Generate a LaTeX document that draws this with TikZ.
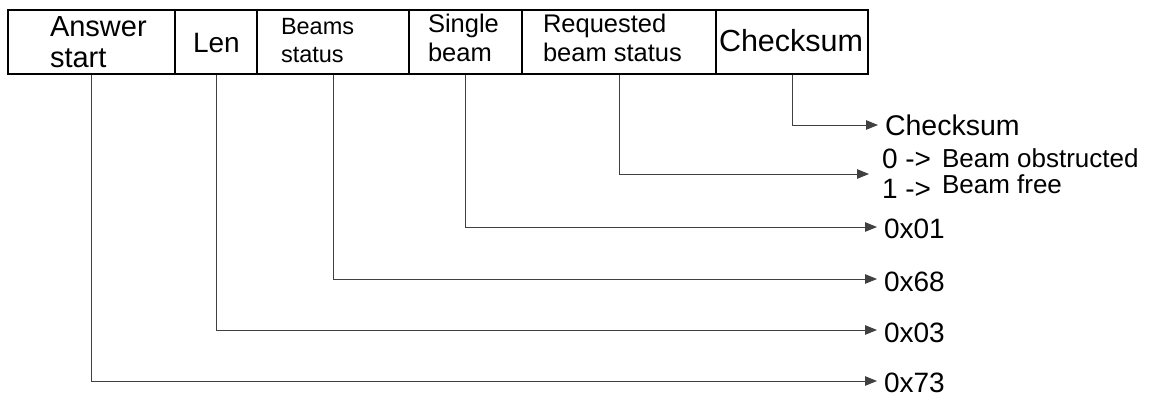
\documentclass[tikz,border=0pt]{standalone}
\usepackage{fontspec}
\setmainfont{Liberation Sans}
\usetikzlibrary{arrows.meta}
\newcommand{\fs}[1]{\fontsize{#1}{#1}\selectfont}
\begin{document}
\begin{tikzpicture}[x=1pt,y=-1pt,
  cell/.style={draw=black,line width=1.3pt,minimum height=64pt,inner sep=0pt},
  txt/.style={anchor=base west,inner sep=0pt,outer sep=0pt},
  conn/.style={draw=black!75,line width=1pt,-{Triangle[length=12pt,width=9.5pt]}}]
\useasboundingbox (0,0) rectangle (1154,396);
% cells
\node[cell,minimum width=167pt] (c1) at (91.5,42) {};
\node[cell,minimum width=82pt]  (c2) at (216,42) {};
\node[cell,minimum width=152pt] (c3) at (333,42) {};
\node[cell,minimum width=113pt] (c4) at (465.5,42) {};
\node[cell,minimum width=194pt] (c5) at (619,42) {};
\node[cell,minimum width=152pt] (c6) at (792,42) {};
% cell texts
\node[txt,font=\fs{29}] (t1a) at (50,37) {Answer};
\node[txt,font=\fs{29}] (t1b) at (50,67) {start};
\node[txt,font=\fs{28}] (t2) at (193,53) {Len};
\node[txt,font=\fs{23.5}] (t3a) at (281,35) {Beams};
\node[txt,font=\fs{23.5}] (t3b) at (281,63) {status};
\node[txt,font=\fs{25.5}] (t4a) at (428,33) {Single};
\node[txt,font=\fs{25.5}] (t4b) at (428,62) {beam};
\node[txt,font=\fs{25.5}] (t5a) at (543,33) {Requested};
\node[txt,font=\fs{25.5}] (t5b) at (543,62) {beam status};
\node[txt,font=\fs{30.5}] (t6) at (719,52) {Checksum};
% arrow tips
\coordinate (p6) at (878,125);
\coordinate (p5) at (869,174);
\coordinate (p4) at (877,227);
\coordinate (p3) at (877,279);
\coordinate (p2) at (877,330);
\coordinate (p1) at (877,381);
% right labels
\node[txt,font=\fs{28.5}] (l6) at (885,135.5) {Checksum};
\node[txt,font=\fs{28}] (l5a) at (882,168) {0 ->};
\node[txt,font=\fs{26}] (l5b) at (942,167.5) {Beam obstructed};
\node[txt,font=\fs{28}] (l5c) at (882,198.3) {1 ->};
\node[txt,font=\fs{26}] (l5d) at (942,193.3) {Beam free};
\node[txt,font=\fs{28}] (l4) at (884,238) {0x01};
\node[txt,font=\fs{28}] (l3) at (884,291.5) {0x68};
\node[txt,font=\fs{28}] (l2) at (884,342) {0x03};
\node[txt,font=\fs{28}] (l1) at (884,392) {0x73};
% connectors
\draw[conn] (c6.south) |- (p6);
\draw[conn] (c5.south) |- (p5);
\draw[conn] (c4.south) |- (p4);
\draw[conn] (c3.south) |- (p3);
\draw[conn] (c2.south) |- (p2);
\draw[conn] (c1.south) |- (p1);
\end{tikzpicture}
\end{document}
